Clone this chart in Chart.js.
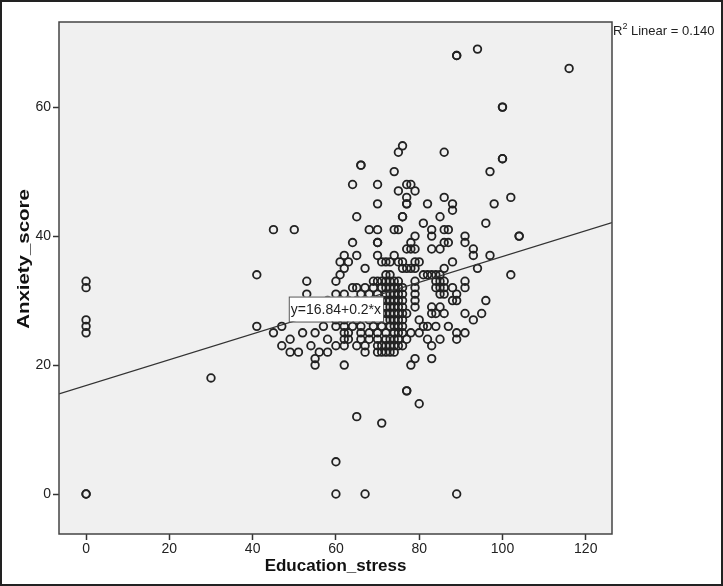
<!DOCTYPE html>
<html>
<head>
<meta charset="utf-8">
<script src="https://cdn.jsdelivr.net/npm/chart.js@4/dist/chart.umd.min.js"></script>
<style>
  html, body { margin: 0; padding: 0; background: #fff; }
  #wrap { width: 723px; height: 586px; }
</style>
</head>
<body>
<div id="wrap"><canvas id="scatter" width="723" height="586"></canvas></div>
<script>
// tick values
const xTicks = [0, 20, 40, 60, 80, 100, 120];
const yTicks = [0, 20, 40, 60];

// linear fit shown in the chart
const fitIntercept = 16.84;
const fitSlope = 0.2;
const fitLabel = "y=16.84+0.2*x";
const fitAnchorX = 60;

// one row per anxiety score, with the education stress of each case on it
const anxietyRows = [69, 68, 66, 60, 54, 53, 52, 51, 50, 48, 47, 46, 45, 44, 43, 42, 41, 40, 39, 38, 37,
  36, 35, 34, 33, 32, 31, 30, 29, 28, 27, 26, 25, 24, 23, 22, 21, 20, 18, 16, 14, 12, 11, 5, 0];
const stressRows = [
  [94],
  [89, 89],
  [116],
  [100, 100],
  [76],
  [75, 86],
  [100, 100],
  [66, 66],
  [74, 97],
  [64, 70, 77, 78],
  [75, 79],
  [77, 86, 102],
  [70, 77, 77, 82, 88, 98],
  [88],
  [65, 76, 76, 85],
  [81, 96],
  [45, 50, 68, 70, 74, 75, 83, 86, 87],
  [79, 83, 91, 104, 104],
  [64, 70, 70, 78, 86, 87, 91],
  [77, 78, 79, 83, 85, 93],
  [62, 65, 70, 74, 93, 97],
  [61, 63, 71, 72, 73, 75, 76, 79, 80, 88],
  [62, 67, 76, 77, 78, 79, 86, 94],
  [41, 61, 72, 73, 81, 82, 83, 84, 85, 102],
  [0, 53, 60, 69, 70, 71, 72, 73, 74, 75, 79, 84, 85, 86, 91],
  [0, 64, 65, 67, 69, 71, 72, 73, 74, 75, 76, 79, 84, 85, 86, 88, 91],
  [53, 60, 62, 66, 68, 70, 72, 73, 74, 75, 76, 79, 85, 86, 89],
  [58, 61, 63, 65, 67, 70, 71, 72, 73, 74, 75, 76, 79, 88, 89, 96],
  [60, 62, 64, 66, 68, 70, 72, 73, 74, 75, 76, 79, 83, 85],
  [59, 61, 63, 67, 69, 71, 72, 73, 74, 75, 76, 77, 83, 84, 86, 91, 95],
  [0, 60, 62, 65, 68, 70, 72, 73, 74, 75, 76, 80, 93],
  [0, 41, 47, 57, 60, 62, 64, 66, 69, 71, 73, 74, 75, 76, 81, 82, 84, 87],
  [0, 45, 52, 55, 62, 63, 66, 68, 70, 72, 74, 75, 76, 78, 80, 89, 91],
  [49, 58, 62, 63, 66, 68, 70, 72, 73, 74, 75, 77, 82, 85, 89],
  [47, 54, 60, 62, 65, 67, 70, 71, 72, 73, 74, 75, 76, 83],
  [49, 51, 56, 58, 67, 70, 71, 72, 73, 74],
  [55, 79, 83],
  [55, 62, 78],
  [30],
  [77, 77],
  [80],
  [65],
  [71],
  [60],
  [0, 0, 60, 67, 89]
];

const points = [];
anxietyRows.forEach((y, i) => {
  stressRows[i].forEach((x) => points.push({ x: x, y: y }));
});

const xMin = -6.5, xMax = 126.3;
const yMin = -6.2, yMax = 73.2;
const narrow = "'Liberation Sans Narrow', 'Liberation Sans', Arial, sans-serif";
const sans = "'Liberation Sans', Arial, sans-serif";

const decorPlugin = {
  id: "decor",
  beforeDraw(chart) {
    const { ctx, chartArea: a } = chart;
    ctx.save();
    ctx.fillStyle = "#ffffff";
    ctx.fillRect(0, 0, chart.width, chart.height);
    ctx.fillStyle = "#f0f0f0";
    ctx.fillRect(a.left, a.top, a.right - a.left, a.bottom - a.top);
    ctx.restore();
  },
  afterDatasetsDraw(chart) {
    const { ctx, scales } = chart;
    // equation box sitting on the fit line
    const cx = scales.x.getPixelForValue(fitAnchorX);
    const cy = scales.y.getPixelForValue(fitIntercept + fitSlope * fitAnchorX);
    ctx.save();
    ctx.font = "14px " + sans;
    const w = ctx.measureText(fitLabel).width + 4;
    const h = 25;
    ctx.fillStyle = "#ffffff";
    ctx.fillRect(cx - w / 2, cy - h / 2 + 1, w, h);
    ctx.strokeStyle = "#555";
    ctx.lineWidth = 1;
    ctx.strokeRect(cx - w / 2 + 0.5, cy - h / 2 + 1.5, w, h);
    ctx.fillStyle = "#222";
    ctx.textAlign = "center";
    ctx.textBaseline = "middle";
    ctx.fillText(fitLabel, cx, cy + 2);
    ctx.restore();
  },
  afterDraw(chart) {
    const { ctx, chartArea: a } = chart;
    ctx.save();
    // plot frame
    ctx.strokeStyle = "#444";
    ctx.lineWidth = 1.5;
    ctx.strokeRect(a.left, a.top, a.right - a.left, a.bottom - a.top);
    // outer frame of the picture
    ctx.strokeStyle = "#222";
    ctx.lineWidth = 2;
    ctx.strokeRect(1, 1, chart.width - 2, chart.height - 2);

    // R squared note
    ctx.fillStyle = "#222";
    ctx.textBaseline = "alphabetic";
    ctx.font = "13px " + narrow;
    let x = a.right + 1;
    ctx.fillText("R", x, 35);
    x += ctx.measureText("R").width;
    ctx.font = "9px " + narrow;
    ctx.fillText("2", x, 29);
    x += ctx.measureText("2").width;
    ctx.font = "13px " + narrow;
    ctx.fillText(" Linear = 0.140", x, 35);

    // y axis title, stretched like the source
    ctx.translate(24, (a.top + a.bottom) / 2 - 19);
    ctx.rotate(-Math.PI / 2);
    ctx.scale(1.2, 1);
    ctx.font = "bold 17px " + sans;
    ctx.textAlign = "center";
    ctx.textBaseline = "middle";
    ctx.fillStyle = "#111";
    ctx.fillText("Anxiety_score", 0, 0);
    ctx.restore();
  }
};

new Chart(document.getElementById("scatter"), {
  type: "scatter",
  data: {
    datasets: [
      {
        label: "Cases",
        data: points,
        pointStyle: "circle",
        pointRadius: 3.8,
        pointBorderWidth: 1.8,
        pointBackgroundColor: "rgba(0,0,0,0)",
        pointBorderColor: "#222",
        order: 2
      },
      {
        label: "Fit",
        type: "line",
        data: [
          { x: xMin, y: fitIntercept + fitSlope * xMin },
          { x: xMax, y: fitIntercept + fitSlope * xMax }
        ],
        borderColor: "#333",
        borderWidth: 1.2,
        pointRadius: 0,
        fill: false,
        order: 1
      }
    ]
  },
  options: {
    responsive: false,
    animation: false,
    devicePixelRatio: 1,
    layout: { padding: { top: 22, right: 111, left: 0, bottom: 0 } },
    plugins: {
      legend: { display: false },
      tooltip: { enabled: false }
    },
    scales: {
      x: {
        type: "linear",
        min: xMin,
        max: xMax,
        afterBuildTicks: (scale) => {
          scale.ticks = xTicks.map((v) => ({ value: v }));
        },
        afterFit: (scale) => {
          scale.height = 52;
        },
        border: { display: false },
        grid: {
          drawOnChartArea: false,
          drawTicks: true,
          tickLength: 6,
          tickColor: "#333",
          tickWidth: 1.5
        },
        ticks: {
          color: "#222",
          padding: 1,
          maxRotation: 0,
          font: { family: narrow, size: 14 }
        },
        title: {
          display: true,
          text: "Education_stress",
          color: "#111",
          font: { family: sans, size: 17, weight: "bold" },
          padding: { top: 0, bottom: 9 }
        }
      },
      y: {
        type: "linear",
        min: yMin,
        max: yMax,
        afterBuildTicks: (scale) => {
          scale.ticks = yTicks.map((v) => ({ value: v }));
        },
        afterFit: (scale) => {
          scale.width = 59;
        },
        border: { display: false },
        grid: {
          drawOnChartArea: false,
          drawTicks: true,
          tickLength: 6,
          tickColor: "#333",
          tickWidth: 1.5
        },
        ticks: {
          color: "#222",
          padding: 2,
          font: { family: narrow, size: 14 }
        },
        title: { display: false }
      }
    }
  },
  plugins: [decorPlugin]
});
</script>
</body>
</html>
